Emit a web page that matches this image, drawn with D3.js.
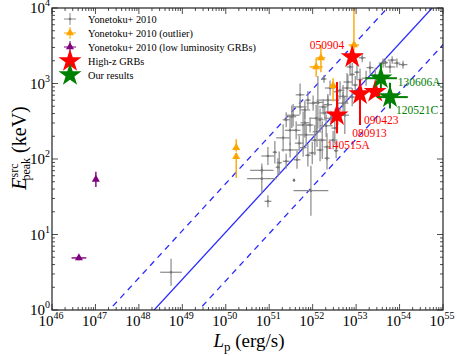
<!DOCTYPE html>
<html>
<head>
<meta charset="utf-8">
<script src="https://cdn.jsdelivr.net/npm/d3@7"></script>
<style>
body { margin: 0; background: #fff; }
text { font-family: "Liberation Serif", "DejaVu Serif", serif; }
</style>
</head>
<body>
<svg width="458" height="356"></svg>
<script>
// Yonetoku+ 2010 sample (log10 Lp [erg/s], log10 Ep [keV], symmetric errors in dex)
var grayLogL = [48.74,50.83,50.83,50.97,50.97,51.32,51.13,51.23,51.39,51.20,51.57,51.96,51.52,51.82,51.78,51.69,51.89,52.10,52.17,52.28,52.35,52.51,52.01,52.22,51.94,52.86,53.02,53.14,52.81,52.79,52.91,53.09,52.35,52.24,52.70,51.71,52.56,53.62,53.83,53.94,54.08,53.78,53.44,53.67,52.26,52.63,52.12,51.55,51.82,51.99,52.05,52.33,52.54,52.33,51.62,51.85,52.42,52.58,52.70,52.40,52.98,52.74,52.08,51.48,51.64,52.31,53.32,53.23,51.71,51.89,51.48,52.17,52.47,51.78,51.39,52.91];
var grayLogE = [0.50,1.74,1.85,2.04,1.44,2.28,2.09,1.95,1.97,1.89,1.72,1.58,2.56,2.65,2.15,2.21,2.05,2.36,2.52,2.61,2.72,2.41,2.74,2.25,2.45,3.22,3.15,3.34,3.02,2.94,2.82,3.05,2.78,2.69,2.74,2.69,2.89,3.27,3.31,3.27,3.25,3.22,3.11,3.28,3.06,2.91,2.75,2.58,2.48,2.08,2.25,2.16,2.11,2.01,2.38,2.32,2.54,2.65,2.83,2.94,2.98,2.58,2.54,2.12,1.99,2.44,3.21,3.07,2.85,2.78,2.38,2.12,2.25,2.45,2.52,3.12];
var grayErrL = [0.25,0.34,0.27,0.15,0.08,0.16,0.05,0.06,0.08,0.05,0.02,0.4,0.1,0.12,0.08,0.1,0.06,0.1,0.08,0.12,0.1,0.08,0.15,0.1,0.08,0.08,0.06,0.08,0.1,0.12,0.08,0.06,0.26,0.1,0.12,0.15,0.08,0.1,0.1,0.08,0.1,0.12,0.08,0.06,0.06,0.1,0.12,0.15,0.1,0.08,0.12,0.08,0.05,0.06,0.1,0.2,0.15,0.08,0.1,0.12,0.06,0.1,0.15,0.2,0.08,0.15,0.08,0.1,0.1,0.06,0.12,0.08,0.1,0.15,0.08,0.06];
var grayErrE = [0.18,0.2,0.05,0.12,0.08,0.18,0.15,0.15,0.1,0.12,0.02,0.33,0.15,0.12,0.12,0.1,0.15,0.2,0.15,0.1,0.12,0.2,0.1,0.25,0.1,0.12,0.1,0.06,0.1,0.2,0.12,0.15,0.08,0.1,0.15,0.1,0.12,0.06,0.05,0.06,0.05,0.08,0.1,0.05,0.05,0.12,0.35,0.15,0.2,0.15,0.2,0.18,0.1,0.15,0.12,0.15,0.1,0.2,0.15,0.1,0.12,0.25,0.18,0.1,0.12,0.15,0.08,0.1,0.15,0.12,0.2,0.15,0.12,0.18,0.1,0.15];

// outliers
var outLogL = [52.95,52.19,52.08,52.47,50.24,50.24];
var outLogE = [3.51,3.34,3.22,2.97,2.15,2.03];
var outErrL = [0.12,0.1,0.15,0.06,0.04,0.04];
var outErrEup = [0.6,0.17,0.12,0.1,0.11,0.05];
var outErrEdn = [0.07,0.19,0.13,0.21,0.05,0.28];

// low luminosity GRBs
var lowLogL = [47.01,46.62];
var lowLogE = [1.73,0.69];
var lowErrL = [0.03,0.17];
var lowErrE = [0.1,0.03];

// high-z GRBs
var hzNames = ["050904","090423","080913","140515A"];
var hzLogL = [52.91,53.09,53.44,52.56];
var hzLogE = [3.35,2.86,2.89,2.58];
var hzErrEup = [0.0,0.19,0.0,0.44];
var hzErrEdn = [0.0,0.41,0.0,0.24];

// our results
var ourNames = ["130606A","120521C"];
var ourLogL = [53.57,53.78];
var ourLogE = [3.07,2.82];
var ourErrLlo = [0.35,0.30];
var ourErrLhi = [0.37,0.41];
var ourErrEup = [0.2,0.19];
var ourErrEdn = [0.13,0.15];

// relation: log Ep = a + b (log Lp - c), 3 sigma band shift in log Lp
var relA = 2.55, relB = 0.625, relC = 52.43, relShift = 1.03;

var xTicks = d3.range(46, 56);
var yTicks = d3.range(0, 5);

var svg = d3.select("svg");
var pl = 52, pr = 443, pt = 8, pb = 310;

var x = d3.scaleLinear().domain([46, 55]).range([pl, pr]);
var y = d3.scaleLinear().domain([0, 4]).range([pb, pt]);

svg.append("clipPath").attr("id", "clip")
  .append("rect").attr("x", pl).attr("y", pt)
  .attr("width", pr - pl).attr("height", pb - pt);

var plot = svg.append("g").attr("clip-path", "url(#clip)");

// relation lines
var lineL = [45, 56];
var rel = d3.line()
  .x(function(d) { return x(d[0]); })
  .y(function(d) { return y(d[1]); });
[0, -relShift, relShift].forEach(function(s, i) {
  plot.append("path")
    .datum(lineL.map(function(l) { return [l, relA + relB * (l - relC - s)]; }))
    .attr("d", rel)
    .attr("fill", "none")
    .attr("stroke", "#2a2aff")
    .attr("stroke-width", 1.3)
    .attr("stroke-dasharray", i == 0 ? null : "6,5");
});

function errbar(g, color, lx, le, llo, lhi, edn, eup, w) {
  if (llo > 0 || lhi > 0)
    g.append("line").attr("x1", x(lx - llo)).attr("x2", x(lx + lhi))
      .attr("y1", y(le)).attr("y2", y(le))
      .attr("stroke", color).attr("stroke-width", w);
  if (edn > 0 || eup > 0)
    g.append("line").attr("x1", x(lx)).attr("x2", x(lx))
      .attr("y1", y(le - edn)).attr("y2", y(le + eup))
      .attr("stroke", color).attr("stroke-width", w);
}

// gray sample
var gGray = plot.append("g");
grayLogL.forEach(function(l, i) {
  errbar(gGray, "#8a8a8a", l, grayLogE[i], grayErrL[i], grayErrL[i], grayErrE[i], grayErrE[i], 1.2);
});
gGray.selectAll("circle").data(grayLogL).enter().append("circle")
  .attr("cx", function(d) { return x(d); })
  .attr("cy", function(d, i) { return y(grayLogE[i]); })
  .attr("r", 1.3).attr("fill", "#777");

var tri = d3.symbol().type(d3.symbolTriangle).size(28);
var star = d3.symbol().type(d3.symbolStar).size(165);

// outliers
var gOut = plot.append("g");
outLogL.forEach(function(l, i) {
  errbar(gOut, "orange", l, outLogE[i], outErrL[i], outErrL[i], outErrEdn[i], outErrEup[i], 1.4);
});
gOut.selectAll("path.m").data(outLogL).enter().append("path")
  .attr("class", "m").attr("d", tri).attr("fill", "orange")
  .attr("transform", function(d, i) { return "translate(" + x(d) + "," + y(outLogE[i]) + ")"; });

// low luminosity
var gLow = plot.append("g");
lowLogL.forEach(function(l, i) {
  errbar(gLow, "purple", l, lowLogE[i], lowErrL[i], lowErrL[i], lowErrE[i], lowErrE[i], 1.4);
});
gLow.selectAll("path.m").data(lowLogL).enter().append("path")
  .attr("class", "m").attr("d", tri).attr("fill", "purple")
  .attr("transform", function(d, i) { return "translate(" + x(d) + "," + y(lowLogE[i]) + ")"; });

// high-z
var gHz = plot.append("g");
hzLogL.forEach(function(l, i) {
  errbar(gHz, "red", l, hzLogE[i], 0, 0, hzErrEdn[i], hzErrEup[i], 2);
});
gHz.selectAll("path.m").data(hzLogL).enter().append("path")
  .attr("class", "m").attr("d", star).attr("fill", "red")
  .attr("transform", function(d, i) { return "translate(" + x(d) + "," + y(hzLogE[i]) + ")"; });

// ours
var gOur = plot.append("g");
ourLogL.forEach(function(l, i) {
  errbar(gOur, "green", l, ourLogE[i], ourErrLlo[i], ourErrLhi[i], ourErrEdn[i], ourErrEup[i], 2);
});
gOur.selectAll("path.m").data(ourLogL).enter().append("path")
  .attr("class", "m").attr("d", star).attr("fill", "green")
  .attr("transform", function(d, i) { return "translate(" + x(d) + "," + y(ourLogE[i]) + ")"; });

// labels
var hzOff = [[-8, -8, "end"], [4, 30, "start"], [-23, 45, "start"], [-10, 34, "start"]];
hzNames.forEach(function(n, i) {
  svg.append("text").attr("x", x(hzLogL[i]) + hzOff[i][0]).attr("y", y(hzLogE[i]) + hzOff[i][1])
    .attr("text-anchor", hzOff[i][2]).attr("font-size", 11.5).attr("fill", "red").text(n);
});
var ourOff = [[17, 8], [6, 17]];
ourNames.forEach(function(n, i) {
  svg.append("text").attr("x", x(ourLogL[i]) + ourOff[i][0]).attr("y", y(ourLogE[i]) + ourOff[i][1])
    .attr("font-size", 11.5).attr("fill", "green").text(n);
});

// frame and ticks
svg.append("rect").attr("x", pl).attr("y", pt)
  .attr("width", pr - pl).attr("height", pb - pt)
  .attr("fill", "none").attr("stroke", "#222").attr("stroke-width", 1.2);

var minor = [2, 3, 4, 5, 6, 7, 8, 9].map(function(m) { return Math.log10(m); });
var ticks = svg.append("g").attr("stroke", "#222").attr("stroke-width", 0.8);
xTicks.forEach(function(t) {
  ticks.append("line").attr("x1", x(t)).attr("x2", x(t)).attr("y1", pb).attr("y2", pb - 6);
  ticks.append("line").attr("x1", x(t)).attr("x2", x(t)).attr("y1", pt).attr("y2", pt + 6);
  if (t < 55) minor.forEach(function(m) {
    ticks.append("line").attr("x1", x(t + m)).attr("x2", x(t + m)).attr("y1", pb).attr("y2", pb - 3);
    ticks.append("line").attr("x1", x(t + m)).attr("x2", x(t + m)).attr("y1", pt).attr("y2", pt + 3);
  });
});
yTicks.forEach(function(t) {
  ticks.append("line").attr("x1", pl).attr("x2", pl + 6).attr("y1", y(t)).attr("y2", y(t));
  ticks.append("line").attr("x1", pr).attr("x2", pr - 6).attr("y1", y(t)).attr("y2", y(t));
  if (t < 4) minor.forEach(function(m) {
    ticks.append("line").attr("x1", pl).attr("x2", pl + 3).attr("y1", y(t + m)).attr("y2", y(t + m));
    ticks.append("line").attr("x1", pr).attr("x2", pr - 3).attr("y1", y(t + m)).attr("y2", y(t + m));
  });
});

// tick labels
xTicks.forEach(function(t) {
  var tx = svg.append("text").attr("x", x(t) - 1).attr("y", pb + 16)
    .attr("text-anchor", "middle").attr("font-size", 15);
  tx.append("tspan").text("10");
  tx.append("tspan").attr("font-size", 10).attr("dy", -7).text(t);
});
yTicks.forEach(function(t) {
  var ty = svg.append("text").attr("x", pl - 2).attr("y", y(t) + 5)
    .attr("text-anchor", "end").attr("font-size", 15);
  ty.append("tspan").text("10");
  ty.append("tspan").attr("font-size", 10).attr("dy", -7).text(t);
});

// axis titles
var xt = svg.append("text").attr("x", 249).attr("y", 347)
  .attr("text-anchor", "middle").attr("font-size", 19);
xt.append("tspan").attr("font-style", "italic").text("L");
xt.append("tspan").attr("font-size", 13).attr("dy", 4).text("p");
xt.append("tspan").attr("dy", -4).text(" (erg/s)");

var yt = svg.append("text").attr("transform", "translate(26,148) rotate(-90)")
  .attr("text-anchor", "middle").attr("font-size", 20);
yt.append("tspan").attr("font-style", "italic").text("E");
yt.append("tspan").attr("font-size", 12).attr("dy", -8).attr("dx", 0).text("src");
yt.append("tspan").attr("font-size", 12).attr("dy", 12).attr("dx", -17).text("peak");
yt.append("tspan").attr("dy", -4).text(" (keV)");

// legend
var legNames = ["Yonetoku+ 2010", "Yonetoku+ 2010 (outlier)", "Yonetoku+ 2010 (low luminosity GRBs)", "High-z GRBs", "Our results"];
var legColors = ["#8a8a8a", "orange", "purple", "red", "green"];
var leg = svg.append("g");
legNames.forEach(function(n, i) {
  var ly = 19 + i * 14, lx = 70;
  if (i < 3) {
    leg.append("line").attr("x1", lx - 6).attr("x2", lx + 6).attr("y1", ly).attr("y2", ly)
      .attr("stroke", legColors[i]).attr("stroke-width", 1);
    leg.append("line").attr("x1", lx).attr("x2", lx).attr("y1", ly - 6).attr("y2", ly + 6)
      .attr("stroke", legColors[i]).attr("stroke-width", 1);
    if (i > 0) leg.append("path").attr("d", tri).attr("fill", legColors[i])
      .attr("transform", "translate(" + lx + "," + ly + ")");
    else leg.append("circle").attr("cx", lx).attr("cy", ly).attr("r", 1.3).attr("fill", "#777");
  } else {
    leg.append("path").attr("d", star).attr("fill", legColors[i])
      .attr("transform", "translate(" + lx + "," + ly + ")");
  }
  leg.append("text").attr("x", 88).attr("y", ly + 4).attr("font-size", 10.3).text(n);
});
</script>
</body>
</html>
